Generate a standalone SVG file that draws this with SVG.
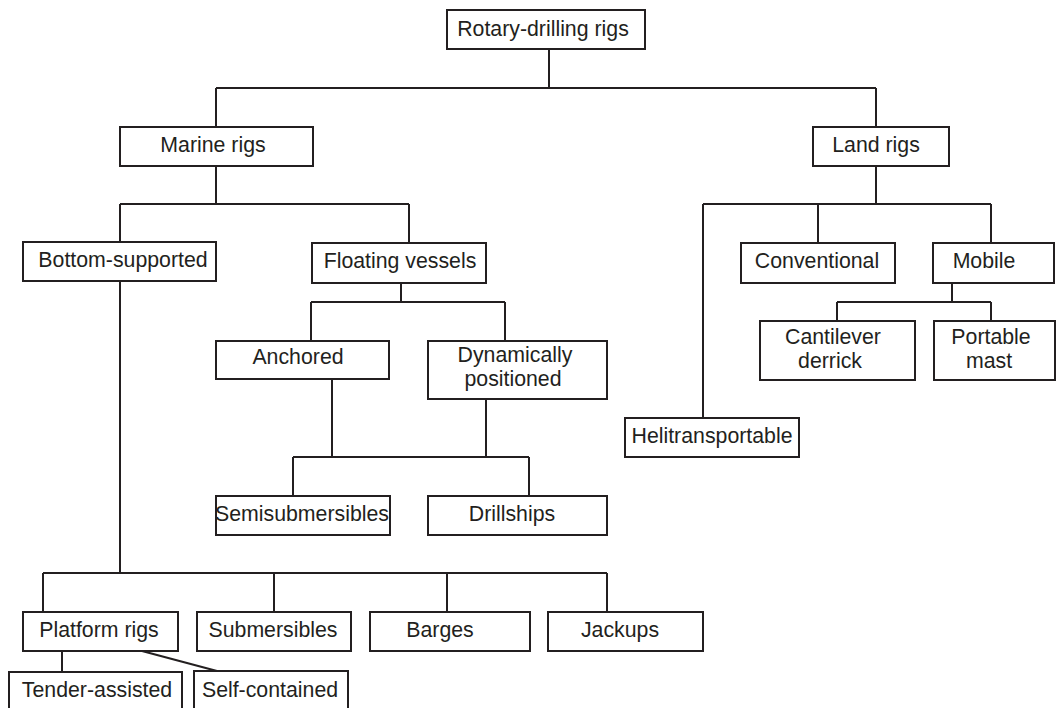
<svg xmlns="http://www.w3.org/2000/svg" width="1056" height="708" viewBox="0 0 1056 708">
<style>
.box{fill:#fff;stroke:#231f20;stroke-width:2}
.ln{fill:none;stroke:#231f20;stroke-width:2}
text{font-family:"Liberation Sans",Arial,sans-serif;font-size:21.3px;fill:#231f20;text-anchor:middle}
</style>
<rect width="1056" height="708" fill="#fff"/>
<g id="connectors" class="ln">
<path d="M549 49V88M216 88H876M216 88V127M876 88V127"/>
<path d="M216 166V204M120 204H409M120 204V242M409 204V243"/>
<path d="M401 283V302M311 302H505M311 302V341M505 302V341"/>
<path d="M332 379V457M486 399V457M293 457H529M293 457V496M529 457V496"/>
<path d="M120 281V573M43 573H607M43 573V612M274 573V612M447 573V612M607 573V612"/>
<path d="M62 651V672M142 651L217 671"/>
<path d="M876 166V204M703 204H991M703 204V418M818 204V243M991 204V243"/>
<path d="M952 283V302M837 302H991M837 302V321M991 302V321"/>
</g>
<g id="n-rotary"><rect class="box" x="447" y="10" width="198" height="39"/><text x="543" y="36">Rotary-drilling rigs</text></g>
<g id="n-marine"><rect class="box" x="120" y="127" width="193" height="39"/><text x="213" y="152">Marine rigs</text></g>
<g id="n-land"><rect class="box" x="813" y="127" width="136" height="39"/><text x="876" y="152">Land rigs</text></g>
<g id="n-bottom"><rect class="box" x="23" y="242" width="193" height="39"/><text x="123" y="267">Bottom-supported</text></g>
<g id="n-floating"><rect class="box" x="312" y="243" width="174" height="40"/><text x="400" y="268">Floating vessels</text></g>
<g id="n-conventional"><rect class="box" x="741" y="243" width="154" height="40"/><text x="817" y="268">Conventional</text></g>
<g id="n-mobile"><rect class="box" x="933" y="243" width="121" height="40"/><text x="984" y="268">Mobile</text></g>
<g id="n-anchored"><rect class="box" x="216" y="341" width="173" height="38"/><text x="298" y="364">Anchored</text></g>
<g id="n-dynamic"><rect class="box" x="428" y="341" width="179" height="58"/><text x="515" y="362">Dynamically<tspan x="513" y="386">positioned</tspan></text></g>
<g id="n-cantilever"><rect class="box" x="760" y="321" width="155" height="59"/><text x="833" y="344">Cantilever<tspan x="830" y="368">derrick</tspan></text></g>
<g id="n-portable"><rect class="box" x="934" y="321" width="121" height="59"/><text x="991" y="344">Portable<tspan x="989" y="368">mast</tspan></text></g>
<g id="n-heli"><rect class="box" x="625" y="418" width="174" height="39"/><text x="712" y="443">Helitransportable</text></g>
<g id="n-semi"><rect class="box" x="216" y="496" width="174" height="39"/><text x="302" y="521">Semisubmersibles</text></g>
<g id="n-drillships"><rect class="box" x="428" y="496" width="179" height="39"/><text x="512" y="521">Drillships</text></g>
<g id="n-platform"><rect class="box" x="23" y="612" width="155" height="39"/><text x="99" y="637">Platform rigs</text></g>
<g id="n-submersibles"><rect class="box" x="197" y="612" width="154" height="39"/><text x="273" y="637">Submersibles</text></g>
<g id="n-barges"><rect class="box" x="370" y="612" width="160" height="39"/><text x="440" y="637">Barges</text></g>
<g id="n-jackups"><rect class="box" x="548" y="612" width="155" height="39"/><text x="620" y="637">Jackups</text></g>
<g id="n-tender"><rect class="box" x="9" y="672" width="173" height="40"/><text x="97" y="697">Tender-assisted</text></g>
<g id="n-self"><rect class="box" x="194" y="671" width="154" height="41"/><text x="270" y="697">Self-contained</text></g>
</svg>
